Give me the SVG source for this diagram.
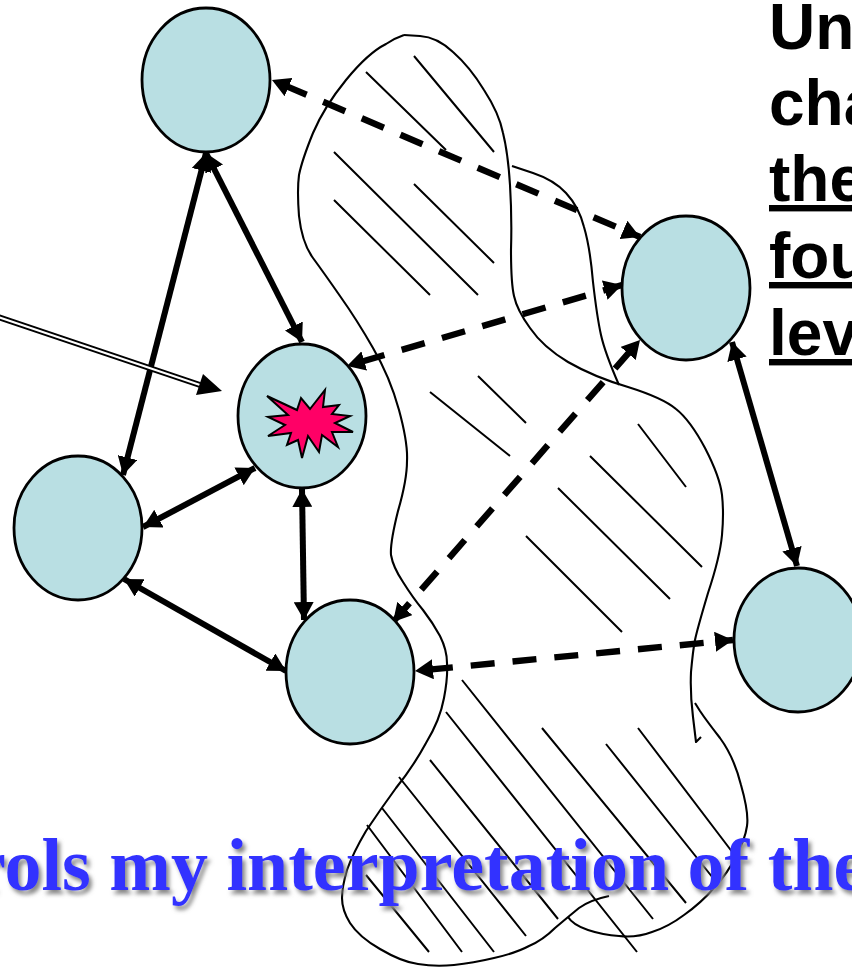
<svg xmlns="http://www.w3.org/2000/svg" width="852" height="968" viewBox="0 0 852 968">
<style>
.blob{fill:none;stroke:#000;stroke-width:2.1;stroke-linejoin:round}
.hatch{stroke:#000;stroke-width:2;fill:none}
.node{fill:#b9dfe3;stroke:#000;stroke-width:2.8}
.solid{stroke:#000;stroke-width:6;fill:none;marker-start:url(#head);marker-end:url(#head)}
.dash{stroke:#000;stroke-width:6.4;fill:none;stroke-dasharray:24 18;marker-start:url(#head);marker-end:url(#head)}
.side{font-family:"Liberation Sans",Arial,sans-serif;font-weight:bold;font-size:64px;fill:#000}
.u{text-decoration:underline;text-decoration-thickness:7px;text-underline-offset:7px}
.banner{font-family:"Liberation Serif","Times New Roman",serif;font-weight:bold;font-size:74px;fill:#3333ff;filter:url(#shadow)}
</style>
<defs>
<marker id="head" markerUnits="userSpaceOnUse" markerWidth="20" markerHeight="20" refX="18" refY="10" orient="auto-start-reverse" viewBox="0 0 20 20"><path d="M0,0L18,10L0,20z" fill="#000"/></marker>
<filter id="shadow" x="-5%" y="-20%" width="110%" height="150%"><feDropShadow dx="3" dy="4" stdDeviation="2.2" flood-color="#888"/></filter>
</defs>
<g id="cloud">
<path class="blob" d="M404,35 L420,36 Q437,37 453,52 Q470,67 484,90 Q499,113 503,133 Q508,153 510,185 Q512,217 511,250 Q511,283 514,296 Q517,310 530,328 Q543,347 568,362 Q594,377 628,387 Q663,398 676,409 Q690,420 705,448 Q720,477 722,495 Q724,513 722,535 Q720,557 708,593 Q697,630 695,640 Q693,650 691,672 Q690,693 693,717 L696,742 L701,737"/>
<path class="blob" d="M695,703 L700,711 Q706,720 720,738 Q734,757 741,785 Q749,813 747,826 Q745,840 736,856 Q728,873 714,888 Q701,903 684,915 Q668,927 652,932 Q636,938 619,936 Q603,935 588,930 Q573,925 568,917"/>
<path class="blob" d="M609,896 Q590,900 579,908 Q568,917 555,928 Q543,940 529,946 Q516,953 494,958 Q473,963 454,965 Q435,967 418,964 Q402,962 380,949 Q359,937 350,923 Q342,910 342,898 Q342,887 347,870 Q353,853 366,831 Q380,810 396,788 Q413,767 426,743 Q440,720 444,698 Q448,677 447,663 Q447,650 440,636 Q433,623 423,610 Q413,598 403,582 Q393,567 391,555 Q390,543 398,511 Q407,480 407,461 Q408,443 399,410 Q390,377 373,348 Q357,320 340,296 Q324,273 313,258 Q302,243 299,216 Q297,190 299,175 Q302,160 313,133 Q324,107 346,80 Q368,53 386,44 Q395,38 404,35"/>
<path class="blob" d="M512,166 L533,173 Q554,180 566,193 Q579,207 584,227 Q590,247 593,282 Q597,317 601,335 Q605,353 619,385"/>
</g>
<g id="hatching" class="hatch">
<path d="M414,56L494,152M366,72L446,150M334,152L478,295M414,184L494,263M334,200L430,295"/>
<path d="M478,376L526,423M430,392L510,456M638,424L686,487M590,456L702,567M558,488L670,599M526,536L622,632"/>
<path d="M366,875L429,952M367,825L462,952M382,808L494,952M399,777L526,936M430,760L558,919M446,712L637,952M462,680L653,919M542,728L686,903M606,744L717,883M638,728L733,853"/>
</g>
<g id="connectors">
<line class="solid" x1="206" y1="153" x2="123" y2="475"/>
<line class="solid" x1="206" y1="153" x2="302" y2="342"/>
<line class="solid" x1="143" y1="527" x2="255" y2="468"/>
<line class="solid" x1="302" y1="489" x2="304" y2="620"/>
<line class="solid" x1="124" y1="579" x2="286" y2="671"/>
<line class="solid" x1="732" y1="342" x2="797" y2="566"/>
<line class="dash" stroke-dashoffset="-13.6" x1="272" y1="80" x2="640" y2="237"/>
<line class="dash" stroke-dashoffset="-15" x1="347" y1="366" x2="622" y2="285"/>
<line class="dash" stroke-dashoffset="-1" x1="393" y1="622" x2="640" y2="340"/>
<line class="dash" stroke-dashoffset="-14" x1="415" y1="671" x2="733" y2="640"/>
<g id="pointer">
<line x1="-2" y1="317" x2="200" y2="385" stroke="#000" stroke-width="6"/>
<line x1="-2" y1="317" x2="200" y2="385" stroke="#fff" stroke-width="2"/>
<path d="M222,391L203,374L196,395z" fill="#000"/>
</g>
</g>
<ellipse id="node-top" class="node" cx="206" cy="80" rx="64" ry="72"/>
<ellipse id="node-right" class="node" cx="686" cy="288" rx="64" ry="72"/>
<g id="node-center">
<ellipse class="node" cx="302" cy="416" rx="64" ry="72"/>
<polygon points="267,396 297,410 301,398 310,409 325,390 323,407 339,405 332,414 350,416 335,423 353,432 332,432 338,447 322,435 319,452 308,436 302,458 298,440 287,445 291,433 268,436 285,425 268,417 288,415" fill="#ff0066" stroke="#000" stroke-width="2"/>
</g>
<ellipse id="node-left" class="node" cx="78" cy="528" rx="64" ry="72"/>
<ellipse id="node-bottom" class="node" cx="350" cy="672" rx="64" ry="72"/>
<ellipse id="node-far-right" class="node" cx="798" cy="640" rx="64" ry="72"/>
<g id="side-text" class="side">
<text x="769" y="49">Un</text>
<text x="769" y="125">cha</text>
<text x="769" y="201" class="u">the</text>
<text x="769" y="278" class="u">fou</text>
<text x="769" y="355" class="u">lev</text>
</g>
<text id="banner" class="banner" x="-27" y="890">rols my interpretation of the</text>
</svg>
